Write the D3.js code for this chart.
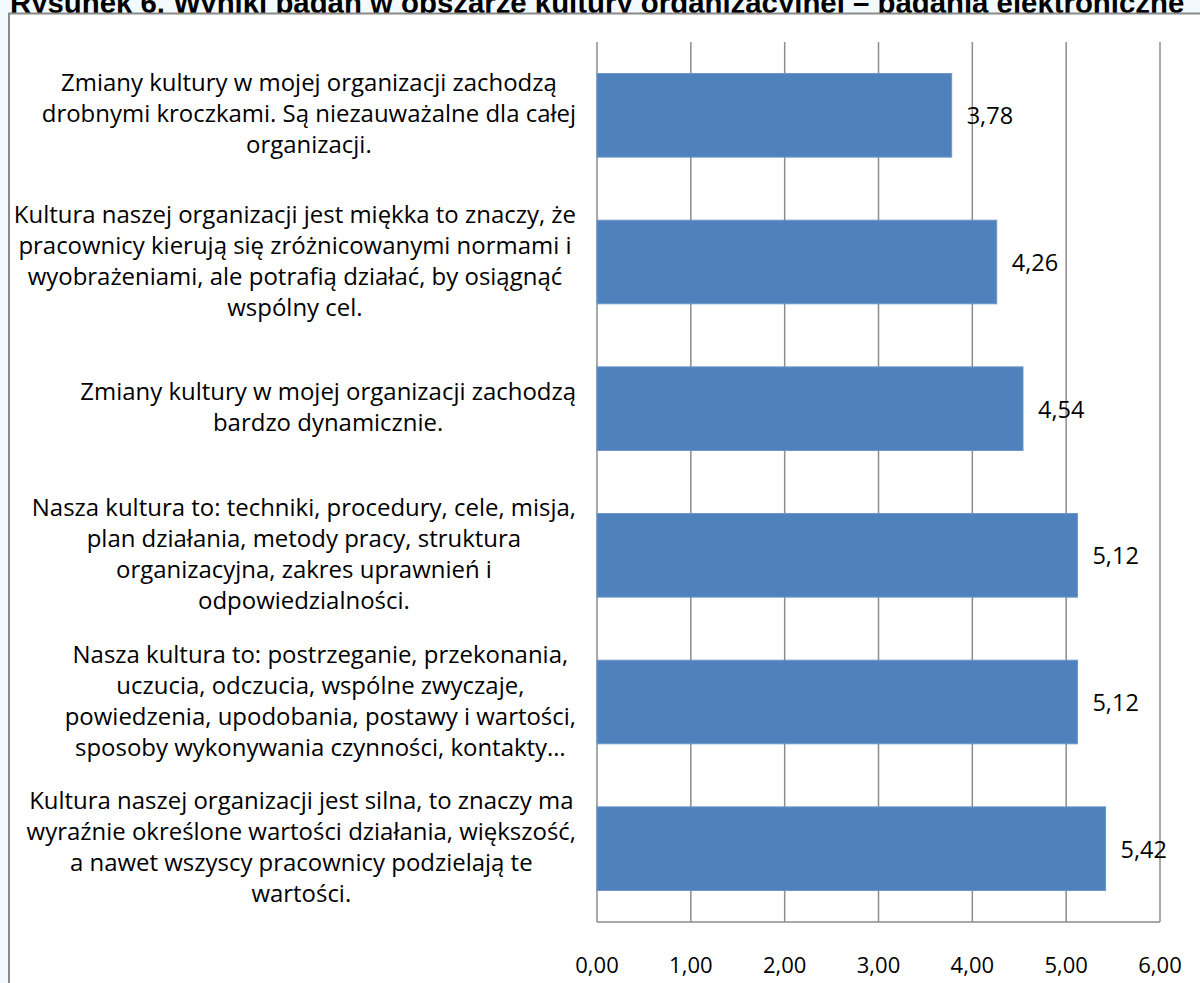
<!DOCTYPE html>
<html lang="pl">
<head>
<meta charset="UTF-8">
<title>Rysunek 6</title>
<script src="https://d3js.org/d3.v7.min.js"></script>
<style>
    body { margin: 0; background: #f2fafd; }
    svg { display: block; }
    .lbl { font-family: "Open Sans", sans-serif; font-size: 20px; fill: #000; }
    .title { font-family: "Liberation Sans", Arial, sans-serif; font-weight: bold; font-size: 28px; fill: #000; }
</style>
</head>
<body>
<svg width="1200" height="983"></svg>
<script>
    // chart data, top to bottom
    const categories = [
        ["Zmiany kultury w mojej organizacji zachodzą", "drobnymi kroczkami. Są niezauważalne dla całej", "organizacji."],
        ["Kultura naszej organizacji jest miękka to znaczy, że", "pracownicy kierują się zróżnicowanymi normami i", "wyobrażeniami, ale potrafią działać, by osiągnąć", "wspólny cel."],
        ["Zmiany kultury w mojej organizacji zachodzą", "bardzo dynamicznie."],
        ["Nasza kultura to: techniki, procedury, cele, misja,", "plan działania, metody pracy, struktura", "organizacyjna, zakres uprawnień i", "odpowiedzialności."],
        ["Nasza kultura to: postrzeganie, przekonania,", "uczucia, odczucia, wspólne zwyczaje,", "powiedzenia, upodobania, postawy i wartości,", "sposoby wykonywania czynności, kontakty…"],
        ["Kultura naszej organizacji jest silna, to znaczy ma", "wyraźnie określone wartości działania, większość,", "a nawet wszyscy pracownicy podzielają te", "wartości."]
    ];
    const values = [3.78, 4.26, 4.54, 5.12, 5.12, 5.42];
    const tickValues = [0, 1, 2, 3, 4, 5, 6];
    const title = "Rysunek 6. Wyniki badań w obszarze kultury organizacyjnej – badania elektroniczne";

    const svg = d3.select("svg");
    const fmt = v => v.toFixed(2).replace(".", ",");

    // title sits behind the frame, so its descenders get covered
    const t = svg.append("text").attr("class", "title")
        .attr("x", 10).attr("y", 13)
        .text(title);
    const tw = t.node().getComputedTextLength();
    t.style("font-size", (28 * 1175 / tw) + "px");

    // frame
    svg.append("rect")
        .attr("x", 9).attr("y", 13.5)
        .attr("width", 1200).attr("height", 1000)
        .attr("fill", "#fff")
        .attr("stroke", "#8a8a8a").attr("stroke-width", 2);

    const x = d3.scaleLinear().domain([0, 6]).range([597, 1160]);
    const y = d3.scaleBand().domain(d3.range(values.length)).range([42, 922])
        .paddingInner(0.43).paddingOuter(0.215);
    const band = d3.scaleBand().domain(d3.range(values.length)).range([42, 922]);

    // gridlines
    svg.append("g").selectAll("line")
        .data(tickValues)
        .join("line")
        .attr("x1", d => x(d)).attr("x2", d => x(d))
        .attr("y1", 42).attr("y2", 922)
        .attr("stroke", "#8c8c8c").attr("stroke-width", 1.5);

    svg.append("line")
        .attr("x1", x(0)).attr("x2", x(6))
        .attr("y1", 922).attr("y2", 922)
        .attr("stroke", "#8c8c8c").attr("stroke-width", 1.5);

    // bars
    svg.append("g").selectAll("rect")
        .data(values)
        .join("rect")
        .attr("x", x(0))
        .attr("y", (d, i) => y(i))
        .attr("width", d => x(d) - x(0))
        .attr("height", y.bandwidth())
        .attr("fill", "#4f81bd")
        .attr("stroke", "#6d96c9").attr("stroke-width", 1);

    // value labels
    svg.append("g").selectAll("text")
        .data(values)
        .join("text")
        .attr("class", "lbl")
        .style("font-size", "23.5px")
        .attr("x", d => x(d) + 15)
        .attr("y", (d, i) => y(i) + y.bandwidth() / 2 + 9)
        .text(d => fmt(d));

    // x tick labels
    svg.append("g").selectAll("text")
        .data(tickValues)
        .join("text")
        .attr("class", "lbl")
        .style("font-size", "22px")
        .attr("text-anchor", "middle")
        .attr("x", d => x(d))
        .attr("y", 973)
        .text(d => fmt(d));

    // category labels: each block right-aligned, lines centred inside it
    const lineH = 31;
    const rightEdge = 576;
    const catG = svg.append("g").attr("class", "lbl");
    const blocks = categories.map((lines, i) => {
        const cy = band(i) + band.bandwidth() / 2;
        const t0 = cy - (lines.length - 1) * lineH / 2;
        return catG.append("g").selectAll("text")
            .data(lines)
            .join("text")
            .attr("text-anchor", "middle")
            .attr("y", (d, j) => t0 + j * lineH + 7)
            .text(d => d);
    });
    // size category text so the first line is as wide as in the picture (~496px)
    const w0 = catG.select("text").node().getComputedTextLength();
    catG.selectAll("text").style("font-size", (20 * 496 / w0) + "px");
    blocks.forEach(sel => {
        const maxW = d3.max(sel.nodes(), n => n.getComputedTextLength());
        sel.attr("x", rightEdge - maxW / 2);
    });
</script>
</body>
</html>
